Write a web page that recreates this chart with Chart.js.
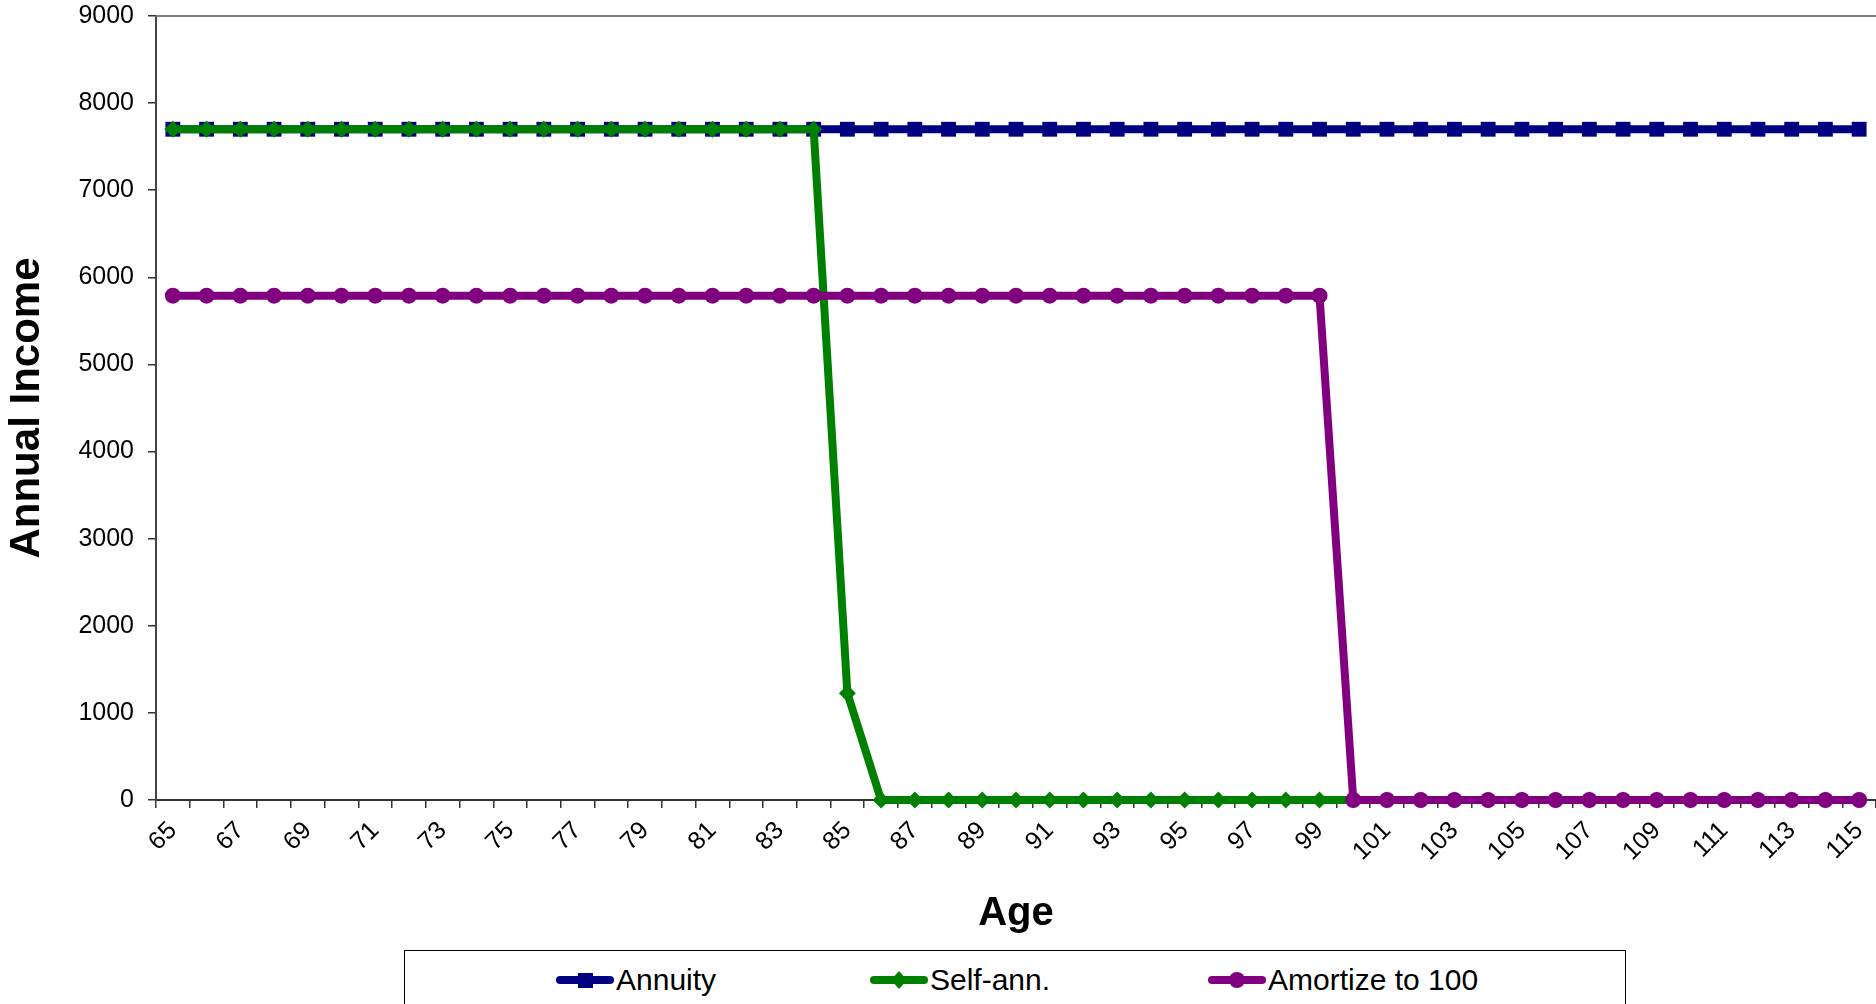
<!DOCTYPE html>
<html>
<head>
<meta charset="utf-8">
<script src="https://cdn.jsdelivr.net/npm/chart.js@4/dist/chart.umd.min.js"></script>
<style>
  html,body{margin:0;padding:0;background:#fff;width:1876px;height:1004px;overflow:hidden;font-family:"Liberation Sans",Arial,sans-serif;}
  #wrap{position:absolute;left:0;top:0;width:1876px;height:950px;}
  #legend{position:absolute;left:404px;top:950px;width:1222px;height:70px;border:1px solid #000;box-sizing:border-box;background:#fff;}
  .item{position:absolute;top:12px;height:34px;display:flex;align-items:center;font-size:30px;color:#000;white-space:nowrap;}
  .item svg{margin-right:2px;}
</style>
</head>
<body>
<div id="wrap"><canvas id="c" width="1876" height="950"></canvas></div>
<div id="legend"></div>
<script>
const ages = [65,66,67,68,69,70,71,72,73,74,75,76,77,78,79,80,81,82,83,84,85,86,87,88,89,90,91,92,93,94,95,96,97,98,99,100,101,102,103,104,105,106,107,108,109,110,111,112,113,114,115];
const annuity = [7700,7700,7700,7700,7700,7700,7700,7700,7700,7700,7700,7700,7700,7700,7700,7700,7700,7700,7700,7700,7700,7700,7700,7700,7700,7700,7700,7700,7700,7700,7700,7700,7700,7700,7700,7700,7700,7700,7700,7700,7700,7700,7700,7700,7700,7700,7700,7700,7700,7700,7700];
const selfAnn = [7700,7700,7700,7700,7700,7700,7700,7700,7700,7700,7700,7700,7700,7700,7700,7700,7700,7700,7700,7700,1225,0,0,0,0,0,0,0,0,0,0,0,0,0,0,0,0,0,0,0,0,0,0,0,0,0,0,0,0,0,0];
const amortize = [5790,5790,5790,5790,5790,5790,5790,5790,5790,5790,5790,5790,5790,5790,5790,5790,5790,5790,5790,5790,5790,5790,5790,5790,5790,5790,5790,5790,5790,5790,5790,5790,5790,5790,5790,0,0,0,0,0,0,0,0,0,0,0,0,0,0,0,0];
const seriesNames = ["Annuity","Self-ann.","Amortize to 100"];
const yTitle = "Annual Income";
const xTitle = "Age";

const colors = ["#000080","#008000","#800080"];
const FONT = "'Liberation Sans', Arial, sans-serif";

const topBorder = {
  id:'topBorder',
  afterDraw(chart){
    const a = chart.chartArea, ctx = chart.ctx;
    ctx.save();
    ctx.strokeStyle = '#808080';
    ctx.lineWidth = 2;
    ctx.beginPath();
    ctx.moveTo(a.left, a.top);
    ctx.lineTo(chart.width, a.top);
    ctx.stroke();
    ctx.restore();
  }
};

new Chart(document.getElementById('c'), {
  type:'line',
  data:{
    labels: ages,
    datasets:[
      {label:seriesNames[0], data:annuity, borderColor:colors[0], backgroundColor:colors[0], borderWidth:8, pointStyle:'rect', pointRadius:10.5, pointBorderWidth:0, order:3, tension:0, clip:false},
      {label:seriesNames[1], data:selfAnn, borderColor:colors[1], backgroundColor:colors[1], borderWidth:8, pointStyle:'rectRot', pointRadius:8.5, pointBorderWidth:0, order:2, tension:0, clip:false},
      {label:seriesNames[2], data:amortize, borderColor:colors[2], backgroundColor:colors[2], borderWidth:8, pointStyle:'circle', pointRadius:8, pointBorderWidth:0, order:1, tension:0, clip:false}
    ]
  },
  options:{
    responsive:false,
    animation:false,
    layout:{autoPadding:false, padding:{left:2, top:16, right:0, bottom:12}},
    plugins:{legend:{display:false}, tooltip:{enabled:false}},
    scales:{
      x:{
        offset:true,
        grid:{display:true, offset:true, drawOnChartArea:false, drawTicks:true, tickLength:8, color:'#333', lineWidth:1.5},
        border:{display:true, color:'#333', width:2},
        ticks:{autoSkip:false, minRotation:45, maxRotation:45, padding:8, color:'#000', font:{family:FONT, size:25},
          callback:function(v, i){ return i % 2 === 0 ? this.getLabelForValue(v) : ''; }},
        title:{display:true, text:xTitle, color:'#000', font:{family:FONT, size:40, weight:'bold'}, padding:0},
        afterFit(s){ s.height = 138; s.paddingRight = 0; }
      },
      y:{
        min:0, max:9000,
        grid:{display:true, drawOnChartArea:false, drawTicks:true, tickLength:8, color:'#333', lineWidth:1.5},
        border:{display:true, color:'#444', width:2},
        ticks:{stepSize:1000, padding:14, color:'#000', font:{family:FONT, size:25, lineHeight:0.5}, callback:(v)=>String(v)},
        title:{display:true, text:yTitle, color:'#000', font:{family:FONT, size:42, weight:'bold'}, padding:0},
        afterFit(s){ s.width = 154; s.paddingTop = 0; s.paddingBottom = 0; }
      }
    }
  },
  plugins:[topBorder]
});

// legend
const legend = document.getElementById('legend');
const lefts = [151, 465, 803];
const shapes = [
  c => `<rect x="22" y="10" width="15" height="15" fill="${c}"/>`,
  c => `<polygon points="29,8 37,17 29,26 21,17" fill="${c}"/>`,
  c => `<circle cx="29" cy="17" r="8" fill="${c}"/>`
];
seriesNames.forEach((n,i)=>{
  const d = document.createElement('div');
  d.className='item';
  d.style.left = lefts[i]+'px';
  d.innerHTML = `<svg width="58" height="34"><line x1="4" y1="17" x2="54" y2="17" stroke="${colors[i]}" stroke-width="8" stroke-linecap="round"/>${shapes[i](colors[i])}</svg><span>${n}</span>`;
  legend.appendChild(d);
});
</script>
</body>
</html>
